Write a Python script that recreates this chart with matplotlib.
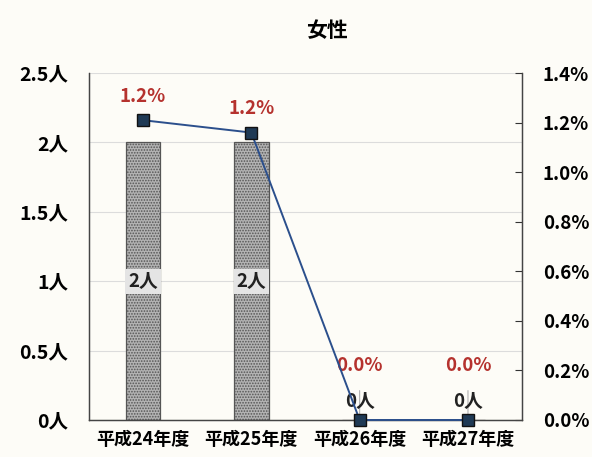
import numpy as np
import matplotlib
matplotlib.use("Agg")
import matplotlib.pyplot as plt

plt.rcParams['font.family'] = ['Noto Sans CJK JP', 'DejaVu Sans']
plt.rcParams['hatch.linewidth'] = 0.8

# 年度ごとの人数と割合
years = ['平成24年度', '平成25年度', '平成26年度', '平成27年度']
counts = [2, 2, 0, 0]
rates = [1.21, 1.16, 0.0, 0.0]

bg = '#fdfcf7'
red = '#b5322e'

fig = plt.figure(figsize=(5.92, 4.57), dpi=100, facecolor=bg)
ax = fig.add_axes([0.150, 0.081, 0.732, 0.759], facecolor=bg)
ax2 = ax.twinx()

x = np.arange(len(years))

# 棒グラフ（人数）
ax.bar(x, counts, width=0.32, color='#b3b3b3', edgecolor='#555555',
       hatch='......', linewidth=0.9, zorder=2)
for xi, c in zip(x, counts):
    if c > 0:
        ax.text(xi, c / 2, f'{c}人', ha='center', va='center', fontsize=13.5,
                fontweight='bold', color='#222222', zorder=4,
                bbox=dict(boxstyle='square,pad=0.15', fc='#e4e4e4', ec='none'))

ax.set_ylim(0, 2.5)
ax.set_yticks(np.arange(0, 2.51, 0.5))
ax.set_yticklabels([f'{v:g}人' for v in np.arange(0, 2.51, 0.5)])
ax.set_xlim(-0.5, 3.5)
ax.set_xticks(x)
ax.set_xticklabels(years)
ax.grid(axis='y', color='#dcdcdc', linewidth=0.8, zorder=0)
ax.set_axisbelow(True)
ax.tick_params(axis='y', length=0, pad=15, labelsize=14)
ax.tick_params(axis='x', length=0, pad=7, labelsize=13)
for lbl in ax.get_xticklabels() + ax.get_yticklabels():
    lbl.set_fontweight('bold')

# 折れ線グラフ（割合）
ax2.plot(x, rates, color='#2b4f8c', linewidth=1.4, marker='s', markersize=8,
         markerfacecolor='#1f3a55', markeredgecolor='#111111', zorder=5,
         clip_on=False)
for xi, r, c in zip(x, rates, counts):
    if r > 0:
        ax2.annotate(f'{r:.1f}%', (xi, r), xytext=(0, 17), textcoords='offset points',
                     ha='center', va='center', fontsize=13.5, fontweight='bold', color=red)
    else:
        ax2.annotate(f'{r:.1f}%', (xi, r), xytext=(0, 39), textcoords='offset points',
                     ha='center', va='center', fontsize=13.5, fontweight='bold', color=red,
                     arrowprops=dict(arrowstyle='-', color='#b0b0b0', lw=0.8,
                                     shrinkA=9, shrinkB=4))
        # 0人のラベル
        ax2.annotate(f'{c}人', (xi, r), xytext=(0, 13), textcoords='offset points',
                     ha='center', va='center', fontsize=13.5, fontweight='bold',
                     color='#222222')
ax2.set_ylim(0, 1.4)
ax2.set_yticks(np.arange(0, 1.41, 0.2))
ax2.set_yticklabels([f'{v:.1f}%' for v in np.arange(0, 1.41, 0.2)])
ax2.tick_params(axis='y', direction='in', length=5, width=0.8, pad=15,
                labelsize=13.5, color='#333333')
for lbl in ax2.get_yticklabels():
    lbl.set_fontweight('bold')

for a in (ax, ax2):
    a.spines['top'].set_visible(False)
    for s in ('left', 'bottom', 'right'):
        a.spines[s].set_color('#444444')
        a.spines[s].set_linewidth(0.9)

fig.text(0.553, 0.934, '女性', ha='center', va='center', fontsize=15, fontweight='bold')

fig.savefig('out.png', dpi=100, facecolor=bg)
